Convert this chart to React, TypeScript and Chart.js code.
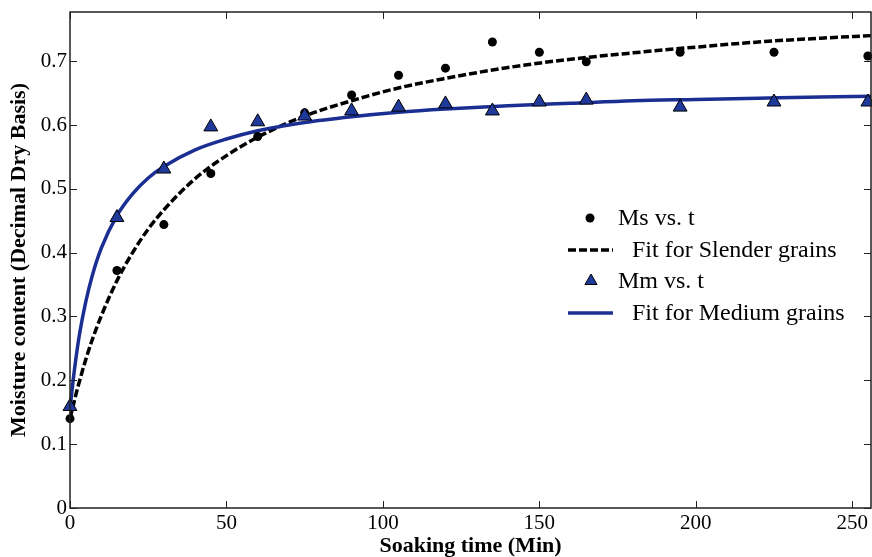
import React, { useEffect, useRef } from "react";
import { Chart, registerables } from "chart.js";

Chart.register(...registerables);

// Measured data (soaking time in minutes)
const soakTime = [0, 15, 30, 45, 60, 75, 90, 105, 120, 135, 150, 165, 195, 225, 255];
const msValues = [0.14, 0.372, 0.444, 0.524, 0.582, 0.619, 0.647, 0.678, 0.689, 0.73, 0.714, 0.699, 0.714, 0.714, 0.708];
const mmValues = [0.159, 0.455, 0.531, 0.597, 0.605, 0.614, 0.622, 0.628, 0.633, 0.622, 0.636, 0.639, 0.628, 0.636, 0.636];

// Fitted curves
const fitTime = [0, 1, 2, 3, 5, 7, 10, 15, 20, 25, 30, 40, 50, 60, 75, 90, 105, 120, 140, 160, 180, 200, 220, 240, 256];
const slenderFit = [0.14, 0.16, 0.18, 0.198, 0.232, 0.262, 0.301, 0.356, 0.4, 0.437, 0.467, 0.516, 0.552, 0.581, 0.614, 0.638, 0.658, 0.673, 0.69, 0.703, 0.713, 0.722, 0.73, 0.736, 0.74];
const mediumFit = [0.155, 0.2, 0.238, 0.271, 0.322, 0.362, 0.407, 0.458, 0.492, 0.517, 0.535, 0.561, 0.578, 0.591, 0.604, 0.613, 0.62, 0.625, 0.63, 0.634, 0.638, 0.64, 0.642, 0.644, 0.645];

const xTicks = [0, 50, 100, 150, 200, 250];
const yTicks = [0, 0.1, 0.2, 0.3, 0.4, 0.5, 0.6, 0.7];

const legendLabels = ["Ms vs. t", "Fit for Slender grains", "Mm vs. t", "Fit for Medium grains"];

const BLUE_LINE = "#1b2f92";
const BLUE_FILL = "#1f3a9a";
const SERIF = "'Liberation Serif', 'Times New Roman', serif";

const framePlugin = {
  id: "frame",
  afterDatasetsDraw(chart: any) {
    const { ctx, chartArea } = chart;
    const { left, right, top, bottom } = chartArea;
    const xs = chart.scales.x;
    const ys = chart.scales.y;
    ctx.save();
    ctx.strokeStyle = "#222";
    ctx.lineWidth = 1.5;
    ctx.beginPath();
    ctx.rect(left, top, right - left, bottom - top);
    ctx.stroke();
    ctx.lineWidth = 1;
    const tl = 7;
    ctx.beginPath();
    xTicks.forEach((v) => {
      const px = Math.round(xs.getPixelForValue(v)) + 0.5;
      ctx.moveTo(px, bottom);
      ctx.lineTo(px, bottom - tl);
      ctx.moveTo(px, top);
      ctx.lineTo(px, top + tl);
    });
    yTicks.forEach((v) => {
      const py = Math.round(ys.getPixelForValue(v)) + 0.5;
      ctx.moveTo(left, py);
      ctx.lineTo(left + tl, py);
      ctx.moveTo(right, py);
      ctx.lineTo(right - tl, py);
    });
    ctx.stroke();
    ctx.restore();
  },
  afterDraw(chart: any) {
    const { ctx } = chart;
    ctx.save();
    ctx.font = `24px ${SERIF}`;
    ctx.fillStyle = "#000";
    ctx.textBaseline = "middle";
    ctx.textAlign = "left";
    const rows = [218, 250, 281, 313];
    // entry 1: dot
    ctx.beginPath();
    ctx.arc(590, rows[0], 4.5, 0, Math.PI * 2);
    ctx.fill();
    ctx.fillText(legendLabels[0], 618, rows[0] + 1);
    // entry 2: dashed line
    ctx.strokeStyle = "#000";
    ctx.lineWidth = 3.5;
    ctx.setLineDash([8, 3]);
    ctx.beginPath();
    ctx.moveTo(568, rows[1]);
    ctx.lineTo(613, rows[1]);
    ctx.stroke();
    ctx.setLineDash([]);
    ctx.fillText(legendLabels[1], 632, rows[1] + 1);
    // entry 3: triangle
    const r = 7;
    ctx.fillStyle = BLUE_FILL;
    ctx.strokeStyle = "#000";
    ctx.lineWidth = 1;
    ctx.beginPath();
    ctx.moveTo(591, rows[2] - r);
    ctx.lineTo(591 + r * 0.866, rows[2] + r * 0.5);
    ctx.lineTo(591 - r * 0.866, rows[2] + r * 0.5);
    ctx.closePath();
    ctx.fill();
    ctx.stroke();
    ctx.fillStyle = "#000";
    ctx.fillText(legendLabels[2], 618, rows[2] + 1);
    // entry 4: blue line
    ctx.strokeStyle = BLUE_LINE;
    ctx.lineWidth = 3.5;
    ctx.beginPath();
    ctx.moveTo(568, rows[3]);
    ctx.lineTo(613, rows[3]);
    ctx.stroke();
    ctx.fillText(legendLabels[3], 632, rows[3] + 1);
    ctx.restore();
  },
};

export default function App() {
  const ref = useRef<HTMLCanvasElement | null>(null);

  useEffect(() => {
    document.body.style.margin = "0";
    const canvas = ref.current;
    if (!canvas) return;
    const chart = new Chart(canvas, {
      type: "scatter",
      data: {
        datasets: [
          {
            label: legendLabels[0],
            data: soakTime.map((t, i) => ({ x: t, y: msValues[i] })),
            pointStyle: "circle",
            pointRadius: 4.5,
            backgroundColor: "#000",
            borderColor: "#000",
            borderWidth: 0,
            showLine: false,
            clip: false,
            order: 1,
          },
          {
            label: legendLabels[1],
            data: fitTime.map((t, i) => ({ x: t, y: slenderFit[i] })),
            showLine: true,
            borderColor: "#000",
            borderWidth: 3.5,
            borderDash: [8, 3],
            pointRadius: 0,
            cubicInterpolationMode: "monotone",
            clip: false,
            order: 3,
          },
          {
            label: legendLabels[2],
            data: soakTime.map((t, i) => ({ x: t, y: mmValues[i] })),
            pointStyle: "triangle",
            pointRadius: 8,
            backgroundColor: BLUE_FILL,
            borderColor: "#000",
            borderWidth: 1,
            showLine: false,
            clip: false,
            order: 0,
          },
          {
            label: legendLabels[3],
            data: fitTime.map((t, i) => ({ x: t, y: mediumFit[i] })),
            showLine: true,
            borderColor: BLUE_LINE,
            borderWidth: 3.5,
            pointRadius: 0,
            cubicInterpolationMode: "monotone",
            clip: false,
            order: 2,
          },
        ] as any,
      },
      options: {
        responsive: false,
        animation: false,
        events: [],
        layout: { autoPadding: false, padding: { top: 12, right: 1, left: 0, bottom: 0 } },
        plugins: {
          legend: { display: false },
          tooltip: { enabled: false },
        },
        scales: {
          x: {
            type: "linear",
            min: 0,
            max: 256,
            afterBuildTicks: (s: any) => {
              s.ticks = xTicks.map((v) => ({ value: v }));
            },
            afterFit: (s: any) => {
              s.height = 49;
              s.paddingLeft = 0;
              s.paddingRight = 0;
            },
            grid: { display: false, drawTicks: false },
            border: { display: false },
            ticks: {
              color: "#000",
              font: { family: SERIF, size: 21 },
              padding: 3,
              maxRotation: 0,
              autoSkip: false,
              callback: (v: any) => String(v),
            },
            title: {
              display: true,
              text: "Soaking time (Min)",
              color: "#000",
              font: { family: SERIF, size: 22, weight: "bold" },
              padding: { top: 0, bottom: -3 },
            },
          },
          y: {
            type: "linear",
            min: 0,
            max: 0.777,
            afterBuildTicks: (s: any) => {
              s.ticks = yTicks.map((v) => ({ value: v }));
            },
            afterFit: (s: any) => {
              s.width = 70;
              s.paddingTop = 0;
              s.paddingBottom = 0;
            },
            grid: { display: false, drawTicks: false },
            border: { display: false },
            ticks: {
              color: "#000",
              font: { family: SERIF, size: 21 },
              padding: 3,
              autoSkip: false,
              callback: (v: any) => (v === 0 ? "0" : Number(v).toFixed(1)),
            },
            title: {
              display: true,
              text: "Moisture content (Decimal Dry Basis)",
              color: "#000",
              font: { family: SERIF, size: 22, weight: "bold" },
              padding: { top: 6, bottom: 0 },
            },
          },
        },
      } as any,
      plugins: [framePlugin],
    });
    return () => chart.destroy();
  }, []);

  return (
    <div style={{ position: "fixed", left: 0, top: 0, width: 872, height: 557, background: "#fff" }}>
      <canvas ref={ref} width={872} height={557} style={{ width: 872, height: 557, display: "block" }} />
    </div>
  );
}
